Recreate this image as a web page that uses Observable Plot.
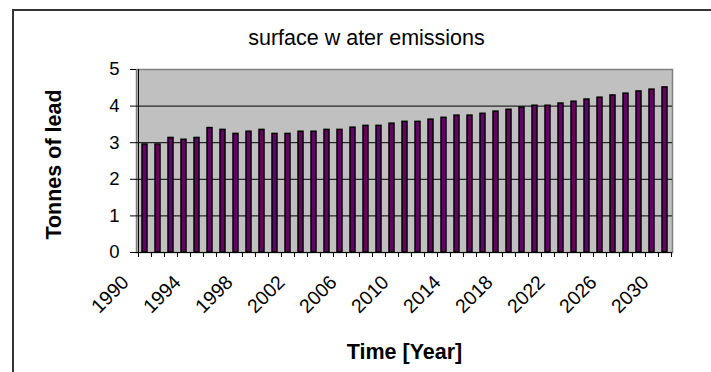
<!DOCTYPE html>
<html>
<head>
<meta charset="utf-8">
<script src="https://cdn.jsdelivr.net/npm/d3@7"></script>
<script src="https://cdn.jsdelivr.net/npm/@observablehq/plot@0.6"></script>
<style>
  html, body { margin: 0; padding: 0; background: #fff; }
  #wrap { position: relative; width: 711px; height: 372px; overflow: hidden; font-family: "Liberation Sans", Arial, sans-serif; }
  #border { position: absolute; left: 12px; top: 9px; width: 720px; height: 400px; border-left: 2px solid #333; border-top: 2px solid #333; pointer-events: none; }
</style>
</head>
<body>
<div id="wrap"><div id="border"></div></div>
<script>
const years = [1990,1991,1992,1993,1994,1995,1996,1997,1998,1999,2000,2001,2002,2003,2004,2005,2006,2007,2008,2009,2010,2011,2012,2013,2014,2015,2016,2017,2018,2019,2020,2021,2022,2023,2024,2025,2026,2027,2028,2029,2030];
const lead = [2.95,2.95,3.13,3.08,3.13,3.40,3.35,3.24,3.30,3.35,
              3.24,3.24,3.30,3.30,3.35,3.35,3.41,3.46,3.46,3.52,
              3.57,3.57,3.63,3.68,3.74,3.74,3.79,3.85,3.90,3.96,
              4.01,4.01,4.07,4.12,4.18,4.23,4.29,4.34,4.40,4.45,4.51];
const labelYears = [1990,1994,1998,2002,2006,2010,2014,2018,2022,2026,2030];
const yTicks = [0,1,2,3,4,5];
const gridTicks = [1,2,3,4];
const title = "surface w ater emissions";
const yLabel = "Tonnes of lead";
const xLabel = "Time [Year]";

const data = years.map((y, i) => ({year: y, value: lead[i]}));

const W = 711, H = 372, mL = 136, mR = 39, mT = 69, mB = 120;
const step = (W - mL - mR) / years.length;

const chart = Plot.plot({
  width: W, height: H,
  marginLeft: mL, marginRight: mR, marginTop: mT, marginBottom: mB,
  style: {fontFamily: '"Liberation Sans", Arial, sans-serif', background: "transparent", color: "#000"},
  x: {type: "band", domain: years, paddingInner: 0.65, paddingOuter: 0.325, axis: null, label: null},
  y: {domain: [0, 5], axis: null, label: null},
  marks: [
    Plot.frame({fill: "#c0c0c0", stroke: "#808080", strokeWidth: 1.5}),
    Plot.ruleY(gridTicks, {stroke: "#000", strokeWidth: 1}),
    Plot.barY(data, {x: "year", y: "value", fill: "#660066", stroke: "#000", strokeWidth: 1.5}),
    Plot.ruleY([0], {stroke: "#000", strokeWidth: 1}),
    Plot.ruleX([years[0]], {dx: -step / 2, stroke: "#000", strokeWidth: 1}),
    Plot.axisY({ticks: yTicks, tickSize: 6, tickPadding: 11, fontSize: 18.5, tickFormat: d => String(d), label: null}),
    Plot.axisX({ticks: years, tickSize: 5, tickFormat: () => "", dx: -step / 2, label: null}),
    Plot.axisX({ticks: [years[years.length - 1]], tickSize: 5, tickFormat: () => "", dx: step / 2, label: null}),
    Plot.text(labelYears, {x: d => d, text: d => String(d), frameAnchor: "bottom", rotate: -45, textAnchor: "end", dx: -15, dy: 31, fontSize: 19.5, fill: "#000"}),
    Plot.text([yLabel], {frameAnchor: "left", textAnchor: "middle", rotate: -90, dx: -82, dy: 3.5, fontSize: 21.5, fontWeight: "bold", fill: "#000"}),
    Plot.text([xLabel], {frameAnchor: "bottom", textAnchor: "middle", lineAnchor: "bottom", dy: 106, fontSize: 21.5, fontWeight: "bold", fill: "#000"}),
    Plot.text([title], {frameAnchor: "top", textAnchor: "middle", lineAnchor: "bottom", dx: -38, dy: -25, fontSize: 21.5, fill: "#000"})
  ]
});
document.getElementById("wrap").prepend(chart);
</script>
</body>
</html>
